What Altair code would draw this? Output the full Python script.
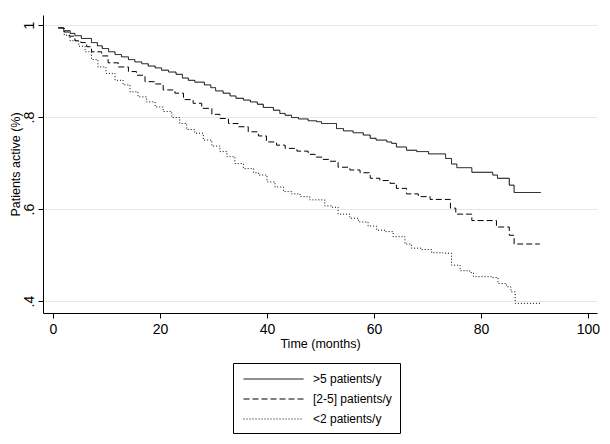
import altair as alt
import pandas as pd

groups = [">5 patients/y", "[2-5] patients/y", "<2 patients/y"]

t_hi = [1.0, 2.0, 3.2, 4.1, 5.3, 7.2, 8.3, 9.2, 10.4, 11.6, 12.8, 14.1, 15.3, 16.6, 17.8, 19.1,
        20.3, 21.6, 23.0, 24.2, 25.3, 26.5, 28.3, 29.5, 30.4, 31.8, 33.1, 34.2, 35.6, 36.9, 38.2,
        39.3, 41.2, 42.4, 43.4, 44.6, 45.9, 47.7, 49.3, 50.2, 53.0, 54.3, 56.1, 58.0, 59.3, 60.4,
        62.4, 63.3, 64.2, 66.1, 68.0, 70.2, 73.4, 74.5, 75.5, 78.3, 82.2, 83.1, 85.3, 86.2, 91.2]
s_hi = [0.994, 0.988, 0.982, 0.977, 0.971, 0.962, 0.955, 0.949, 0.942, 0.936, 0.931, 0.925, 0.920,
        0.916, 0.911, 0.907, 0.902, 0.898, 0.893, 0.885, 0.880, 0.876, 0.870, 0.864, 0.857, 0.852,
        0.846, 0.841, 0.837, 0.833, 0.828, 0.821, 0.815, 0.808, 0.804, 0.799, 0.796, 0.792, 0.790,
        0.786, 0.775, 0.770, 0.766, 0.761, 0.754, 0.750, 0.746, 0.743, 0.735, 0.728, 0.725, 0.720,
        0.710, 0.698, 0.690, 0.680, 0.674, 0.667, 0.652, 0.636, 0.636]

t_mid = [1.0, 2.0, 3.0, 4.1, 5.2, 6.3, 7.2, 9.1, 10.3, 12.2, 14.1, 15.6, 17.2, 19.1, 20.6, 22.8,
         24.4, 26.2, 27.8, 29.7, 31.2, 32.8, 34.6, 36.5, 38.4, 39.9, 41.8, 43.4, 45.6, 47.7, 49.0,
         50.5, 51.8, 53.3, 55.5, 57.4, 59.3, 61.1, 63.0, 64.2, 66.1, 68.3, 70.5, 74.3, 75.3, 78.3,
         82.9, 85.3, 86.2, 91.0]
s_mid = [0.994, 0.985, 0.976, 0.966, 0.962, 0.953, 0.942, 0.933, 0.918, 0.909, 0.899, 0.891, 0.877,
         0.872, 0.859, 0.852, 0.838, 0.830, 0.819, 0.806, 0.797, 0.786, 0.779, 0.768, 0.759, 0.746,
         0.739, 0.732, 0.726, 0.719, 0.713, 0.708, 0.704, 0.691, 0.685, 0.679, 0.667, 0.662, 0.656,
         0.645, 0.633, 0.627, 0.621, 0.602, 0.589, 0.575, 0.561, 0.543, 0.524, 0.524]

t_lo = [1.0, 2.1, 3.2, 4.8, 6.0, 7.2, 8.4, 9.9, 11.6, 13.1, 14.4, 15.9, 17.5, 19.1, 20.6, 22.2,
        23.7, 25.0, 26.5, 28.1, 29.7, 31.2, 32.5, 34.0, 35.6, 37.5, 38.4, 40.0, 41.5, 43.1, 44.6,
        46.2, 48.0, 50.8, 52.1, 53.3, 55.5, 57.1, 58.9, 60.5, 62.1, 63.6, 65.8, 67.0, 68.9, 70.8,
        72.9, 74.5, 76.1, 77.9, 78.6, 82.0, 83.2, 84.8, 85.6, 86.4, 91.2]
s_lo = [0.994, 0.978, 0.966, 0.954, 0.942, 0.925, 0.909, 0.895, 0.880, 0.870, 0.855, 0.844, 0.833,
        0.822, 0.812, 0.799, 0.786, 0.773, 0.765, 0.750, 0.737, 0.725, 0.714, 0.699, 0.688, 0.679,
        0.674, 0.659, 0.648, 0.638, 0.633, 0.627, 0.620, 0.607, 0.604, 0.589, 0.580, 0.572, 0.563,
        0.554, 0.551, 0.540, 0.524, 0.515, 0.512, 0.505, 0.504, 0.478, 0.466, 0.462, 0.453, 0.451,
        0.438, 0.431, 0.420, 0.395, 0.393]

x_ticks = [0, 20, 40, 60, 80, 100]
y_ticks = [0.4, 0.6, 0.8, 1.0]

rows = []
for g, ts, ss in zip(groups, [t_hi, t_mid, t_lo], [s_hi, s_mid, s_lo]):
    for t, s in zip(ts, ss):
        rows.append({"group": g, "time": t, "surv": s})
df = pd.DataFrame(rows)

FONT = "Liberation Sans"

chart = alt.Chart(df).mark_line(
    interpolate="step-after", strokeWidth=1, color="black"
).encode(
    x=alt.X("time:Q",
            scale=alt.Scale(domain=[-1.87, 101.7], nice=False, zero=False),
            axis=alt.Axis(values=x_ticks, title="Time (months)", grid=False,
                          tickSize=5, labelPadding=4, titlePadding=1,
                          labelFontSize=14, titleFontSize=12.5)),
    y=alt.Y("surv:Q",
            scale=alt.Scale(domain=[0.374, 1.022], nice=False, zero=False),
            axis=alt.Axis(values=y_ticks, title="Patients active (%)", grid=True,
                          gridColor="#e6e6e6", gridWidth=1,
                          tickSize=5, labelAngle=270, labelAlign="center",
                          labelBaseline="alphabetic", labelPadding=5,
                          labelFontSize=14, titleFontSize=12.5,
                          titleAngle=270, titleAlign="center", titleBaseline="middle",
                          titleX=-28, titleY=149,
                          labelExpr="datum.value == 1 ? '1' : replace(format(datum.value, '.1f'), '0.', '.')")),
    strokeDash=alt.StrokeDash("group:N", title=None,
                              scale=alt.Scale(domain=groups, range=[[1, 0], [6, 3], [1, 2]]),
                              legend=alt.Legend(orient="none", legendX=190, legendY=348,
                                                strokeColor="black", fillColor="white", padding=8,
                                                symbolType="M-0.73,0L7.27,0", symbolSize=225,
                                                symbolStrokeWidth=1, symbolStrokeColor="black",
                                                labelOffset=56, labelFontSize=12, labelFont=FONT,
                                                labelColor="black", rowPadding=6, labelLimit=300)),
).properties(
    width=554, height=298,
    autosize=alt.AutoSizeParams(type="none"),
    padding={"left": 35, "top": 7, "right": 5, "bottom": 123},
).configure_view(
    stroke="transparent"
).configure_axis(
    labelFont=FONT, titleFont=FONT, labelColor="black", titleColor="black",
    titleFontWeight="normal", domainColor="black", tickColor="black",
    domainWidth=1, tickWidth=1
)

chart.save("out.html", embed_options={"renderer": "svg", "actions": False})
